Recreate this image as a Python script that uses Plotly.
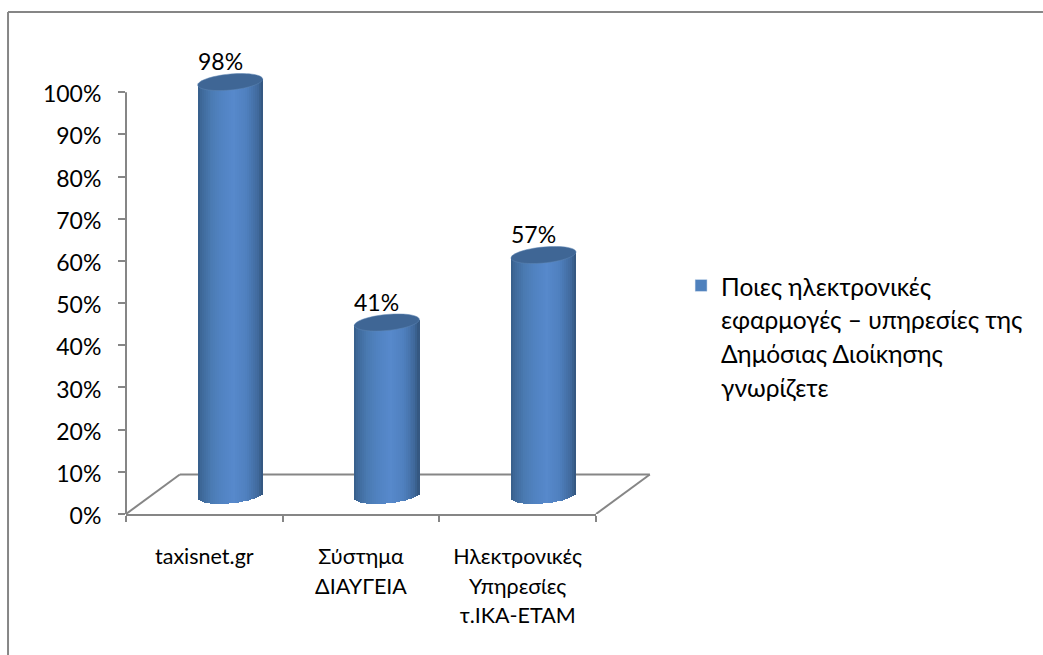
import numpy as np
import plotly.graph_objects as go

categories = ["taxisnet.gr", "Σύστημα<br>ΔΙΑΥΓΕΙΑ", "Ηλεκτρονικές<br>Υπηρεσίες<br>τ.ΙΚΑ-ΕΤΑΜ"]
values = [98, 41, 57]
series_name = ["Ποιες ηλεκτρονικές", "εφαρμογές – υπηρεσίες της", "Δημόσιας Διοίκησης", "γνωρίζετε"]
y_ticks = list(range(0, 101, 10))

FONT = "Lato, 'Noto Sans', sans-serif"
GREY = "#868686"
depth_y = 4.4      # floor offset of the cylinder axis, in axis units
x_shift = 0.165    # cylinders stand in the middle of the 3-D floor
radius = 0.2075
cap_h = 1.9
cap_tilt = 0.7
N = 33

stops_u = [-1, -0.9, -0.6, -0.25, 0.1, 0.5, 0.85, 1]
stops_rgb = np.array([[54, 92, 136], [62, 104, 153], [74, 122, 178], [81, 131, 194],
                      [87, 137, 204], [79, 128, 190], [64, 105, 156], [50, 84, 124]])


def shade(u):
    c = [np.interp(u, stops_u, stops_rgb[:, k]) for k in range(3)]
    return f"rgb({c[0]:.0f},{c[1]:.0f},{c[2]:.0f})"


def span(text, size):
    return f'<span style="font-size:{size}px">{text}</span>'


x_labels = ["<br>".join(span(p, 21.5) for p in c.split("<br>")) for c in categories]
fig = go.Figure()

# Legend entry
fig.add_trace(go.Bar(
    x=x_labels, y=[None] * 3, name="<br>".join(span(p, 24.5) for p in series_name),
    marker=dict(color="#4f81bd"), showlegend=True, hoverinfo="skip"))

# Cylinder bodies: thin vertical strips carry the shading
w = 2 * radius / N
for k in range(N):
    u = -1 + (k + 0.5) * 2 / N
    lift = cap_tilt * u
    low = cap_h * np.sqrt(1 - u ** 2)
    fig.add_trace(go.Bar(
        x=x_labels,
        y=[v + low for v in values],
        base=depth_y + lift - low,
        width=w * 1.15,
        offset=x_shift + u * radius - w / 2,
        marker=dict(color=shade(u), line=dict(width=0)),
        showlegend=False, hoverinfo="skip"))

shapes = []
# Axis line and 3-D floor
shapes.append(dict(type="line", xref="paper", yref="y", x0=0, x1=0, y0=0, y1=100,
                   line=dict(color=GREY, width=2)))
dx, dy = 0.1145, 9.36
for a, b in [((0, 0), (dx, dy)), ((dx, dy), (1 + dx, dy)), ((1, 0), (1 + dx, dy))]:
    shapes.append(dict(type="line", xref="paper", yref="y", x0=a[0], y0=a[1], x1=b[0], y1=b[1],
                       layer="below", line=dict(color=GREY, width=2)))
# Cylinder caps
t = np.linspace(0, 2 * np.pi, 61)
for i, v in enumerate(values):
    cx = i + x_shift
    top = depth_y + v
    pts = [(cx + radius * np.cos(a), top + cap_tilt * np.cos(a) + cap_h * np.sin(a)) for a in t]
    path = "M" + "L".join(f"{px:.4f},{py:.3f}" for px, py in pts) + "Z"
    shapes.append(dict(type="path", xref="x", yref="y", path=path,
                       fillcolor="#3f6695", line=dict(color="#5f86b5", width=0.5), layer="above"))
# Chart frame: top and left edges
shapes.append(dict(type="line", xref="paper", yref="paper", x0=-0.251, x1=1.951, y0=1.082, y1=1.082,
                   line=dict(color=GREY, width=2)))
shapes.append(dict(type="line", xref="paper", yref="paper", x0=-0.251, x1=-0.251, y0=1.082, y1=-0.304,
                   line=dict(color=GREY, width=2)))

annotations = [dict(x=i + 0.10, y=v + 9.3, xref="x", yref="y", text=f"{v}%", showarrow=False,
                    font=dict(size=23, color="black", family=FONT), yanchor="middle")
               for i, v in enumerate(values)]

fig.update_layout(
    width=1043, height=655, autosize=False,
    margin=dict(l=126, r=447, t=50, b=141, pad=0),
    paper_bgcolor="white", plot_bgcolor="rgba(0,0,0,0)",
    font=dict(family=FONT, color="black"),
    barmode="overlay", bargap=0,
    showlegend=True,
    legend=dict(x=1.181, y=0.543, xanchor="left", yanchor="top", font=dict(size=26, family=FONT),
                valign="top", bgcolor="rgba(0,0,0,0)", itemclick=False, itemdoubleclick=False),
    xaxis=dict(type="category", categoryorder="array", categoryarray=x_labels, range=[-0.5, 2.5],
               tickson="boundaries", ticks="outside", ticklen=6, tickwidth=2, tickcolor=GREY,
               showline=True, linecolor=GREY, linewidth=2, showgrid=False, zeroline=False,
               tickfont=dict(size=23, family=FONT, color="black"), ticklabelstandoff=20, tickangle=0),
    yaxis=dict(range=[0, 110], tickmode="array", tickvals=y_ticks, ticktext=[f"{v}%" for v in y_ticks],
               ticks="outside", ticklen=7, tickwidth=2, tickcolor=GREY, showline=False,
               ticklabelstandoff=12, ticklabelshift=2,
               showgrid=False, zeroline=False, tickfont=dict(size=23, family=FONT, color="black")),
    shapes=shapes, annotations=annotations,
)

fig.write_html("out.html", config={"displayModeBar": False},
               post_script="document.body.style.margin='0';")
